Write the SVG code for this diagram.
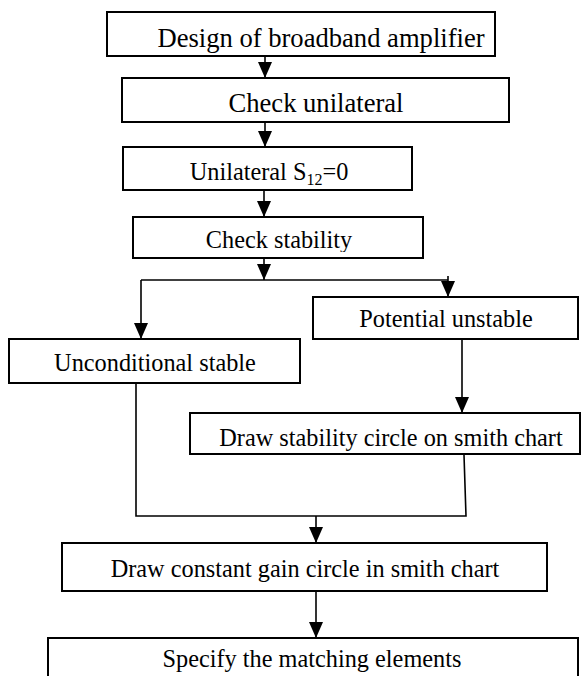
<svg xmlns="http://www.w3.org/2000/svg" width="582" height="676" viewBox="0 0 582 676">
<style>
.box{fill:#fff;stroke:#000;stroke-width:2}
.t{font-family:"Liberation Serif","Times New Roman",serif;font-size:24.3px;fill:#000;text-anchor:middle}
.big{font-size:26.6px}
.c{fill:none;stroke:#000;stroke-width:1.6}
</style>
<defs>
<marker id="a" viewBox="0 0 16 14" refX="16" refY="7" markerWidth="16" markerHeight="14" markerUnits="userSpaceOnUse" orient="auto">
<path d="M0,0 L16,7 L0,14 Z" fill="#000"/>
</marker>
<clipPath id="k3"><rect x="124" y="148" width="287" height="38"/></clipPath>
<clipPath id="k4"><rect x="134" y="218" width="288" height="34"/></clipPath>
<clipPath id="k7"><rect x="191" y="414" width="389" height="37"/></clipPath>
</defs>
<rect width="582" height="676" fill="#fff"/>
<g id="connectors">
<line class="c" x1="265" y1="56" x2="265" y2="78" marker-end="url(#a)"/>
<line class="c" x1="265" y1="122" x2="265" y2="147" marker-end="url(#a)"/>
<line class="c" x1="264" y1="191" x2="264" y2="217" marker-end="url(#a)"/>
<line class="c" x1="264" y1="258" x2="264" y2="280" marker-end="url(#a)"/>
<polyline class="c" points="141,280 448,280"/>
<polyline class="c" points="141,280 141,339" marker-end="url(#a)"/>
<polyline class="c" points="448,276 448,297" marker-end="url(#a)"/>
<line class="c" x1="462" y1="340" x2="462" y2="413" marker-end="url(#a)"/>
<polyline class="c" points="136,384 136,516 466,516 464,455"/>
<line class="c" x1="316" y1="516" x2="316" y2="543" marker-end="url(#a)"/>
<line class="c" x1="316" y1="591" x2="316" y2="638" marker-end="url(#a)"/>
</g>
<g id="n1"><rect class="box" x="107" y="12" width="388" height="44"/><text class="t big" x="321" y="47">Design of broadband amplifier</text></g>
<g id="n2"><rect class="box" x="122" y="78" width="387" height="44"/><text class="t big" x="316" y="112">Check unilateral</text></g>
<g id="n3"><rect class="box" x="123" y="147" width="289" height="43"/><g clip-path="url(#k3)"><text class="t" x="269" y="180">Unilateral S<tspan font-size="16" dy="5">12</tspan><tspan dy="-5">=0</tspan></text></g></g>
<g id="n4"><rect class="box" x="133" y="217" width="290" height="41"/><g clip-path="url(#k4)"><text class="t" x="279" y="248">Check stability</text></g></g>
<g id="n5"><rect class="box" x="313" y="297" width="265" height="42"/><text class="t" x="446" y="327">Potential unstable</text></g>
<g id="n6"><rect class="box" x="9" y="339" width="291" height="44"/><text class="t" x="155" y="371">Unconditional stable</text></g>
<g id="n7"><rect class="box" x="190" y="413" width="390" height="41"/><g clip-path="url(#k7)"><text class="t" x="391" y="446">Draw stability circle on smith chart</text></g></g>
<g id="n8"><rect class="box" x="62" y="543" width="485" height="48"/><text class="t" x="305" y="577">Draw constant gain circle in smith chart</text></g>
<g id="n9"><rect class="box" x="48" y="638" width="530" height="50"/><text class="t" x="312" y="667">Specify the matching elements</text></g>
</svg>
